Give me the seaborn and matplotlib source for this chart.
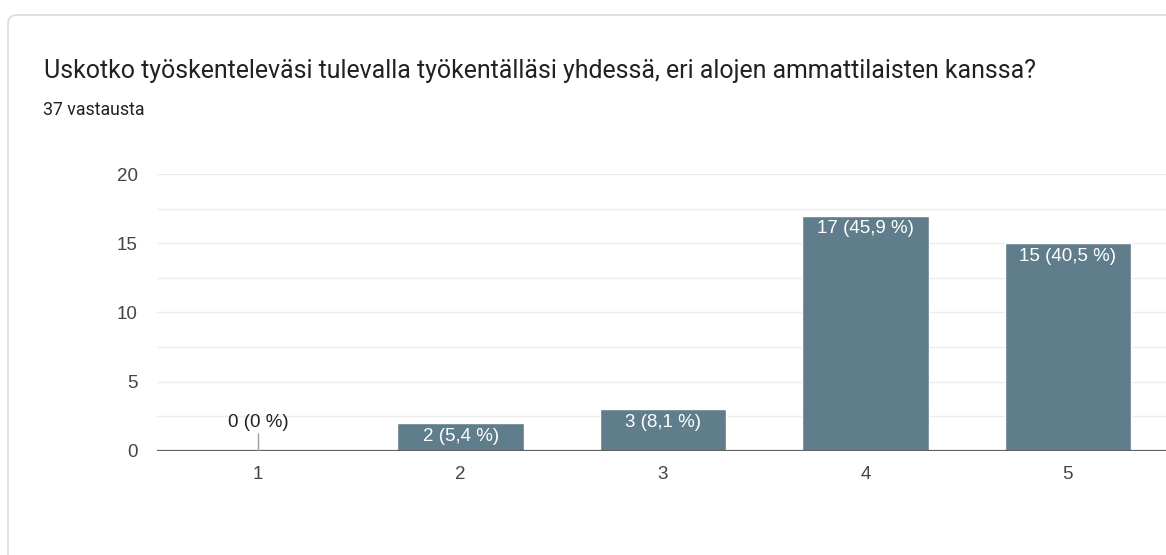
import matplotlib.pyplot as plt
import seaborn as sns
import pandas as pd
from matplotlib.patches import FancyBboxPatch
from matplotlib.transforms import IdentityTransform

# Data
categories = ["1", "2", "3", "4", "5"]
counts = [0, 2, 3, 17, 15]
total = 37
title = "Uskotko työskenteleväsi tulevalla työkentälläsi yhdessä, eri alojen ammattilaisten kanssa?"
subtitle = f"{total} vastausta"

df = pd.DataFrame({"vastaus": categories, "lkm": counts})

sns.set_style("white")
plt.rcParams['font.family'] = ['Liberation Sans', 'DejaVu Sans']

fig = plt.figure(figsize=(11.66, 5.55), dpi=100)

# card background
card = FancyBboxPatch((8, -60), 1220, 600, boxstyle="round,pad=0,rounding_size=9",
                      transform=IdentityTransform(), facecolor="white",
                      edgecolor="#dadce0", linewidth=1.2, zorder=0)
fig.add_artist(card)

W, H = 1166, 555
ax = fig.add_axes([157 / W, 1 - 450.7 / H, (1169 - 157) / W, (450.7 - 174) / H])
ax.set_facecolor("none")

sns.barplot(data=df, x="vastaus", y="lkm", color="#607d8b", width=0.625,
            saturation=1, ax=ax, zorder=2)

ax.set_ylim(0, 20)
ax.set_xlim(-0.5, 4.5)
ax.set_yticks([0, 5, 10, 15, 20])
ax.set_yticks([2.5, 7.5, 12.5, 17.5], minor=True)
ax.grid(axis="y", which="both", color="#ececec", linewidth=1, zorder=0)
ax.set_axisbelow(True)
for s in ax.spines.values():
    s.set_visible(False)
ax.axhline(0, color="#616161", linewidth=1.6, zorder=3)
ax.tick_params(axis="both", length=0, labelsize=13.5, labelcolor="#444444")
ax.tick_params(axis="y", pad=14)
ax.tick_params(axis="x", pad=11)
ax.set_xlabel("")
ax.set_ylabel("")

for i, c in enumerate(counts):
    pct = f"{100 * c / total:.1f}".replace(".", ",").replace(",0", "")
    label = f"{c} ({pct} %)"
    if c == 0:
        ax.vlines(i, 0, 1.3, color="#9e9e9e", linewidth=1, zorder=3)
        ax.text(i, 2.05, label, ha="center", va="center", fontsize=13.5, color="#222222")
    else:
        ax.annotate(label, xy=(i, c), xytext=(0, -13), textcoords="offset pixels",
                    ha="center", va="center", fontsize=13.5, color="#ffffff")

fig.text(44 / W, 1 - 71 / H, title, ha="left", va="center", fontsize=17.9,
         color="#202124", family=["Roboto", "DejaVu Sans"])
fig.text(43 / W, 1 - 110 / H, subtitle, ha="left", va="center", fontsize=12.8,
         color="#202124", family=["Roboto", "DejaVu Sans"])

fig.savefig("out.png", dpi=100)
